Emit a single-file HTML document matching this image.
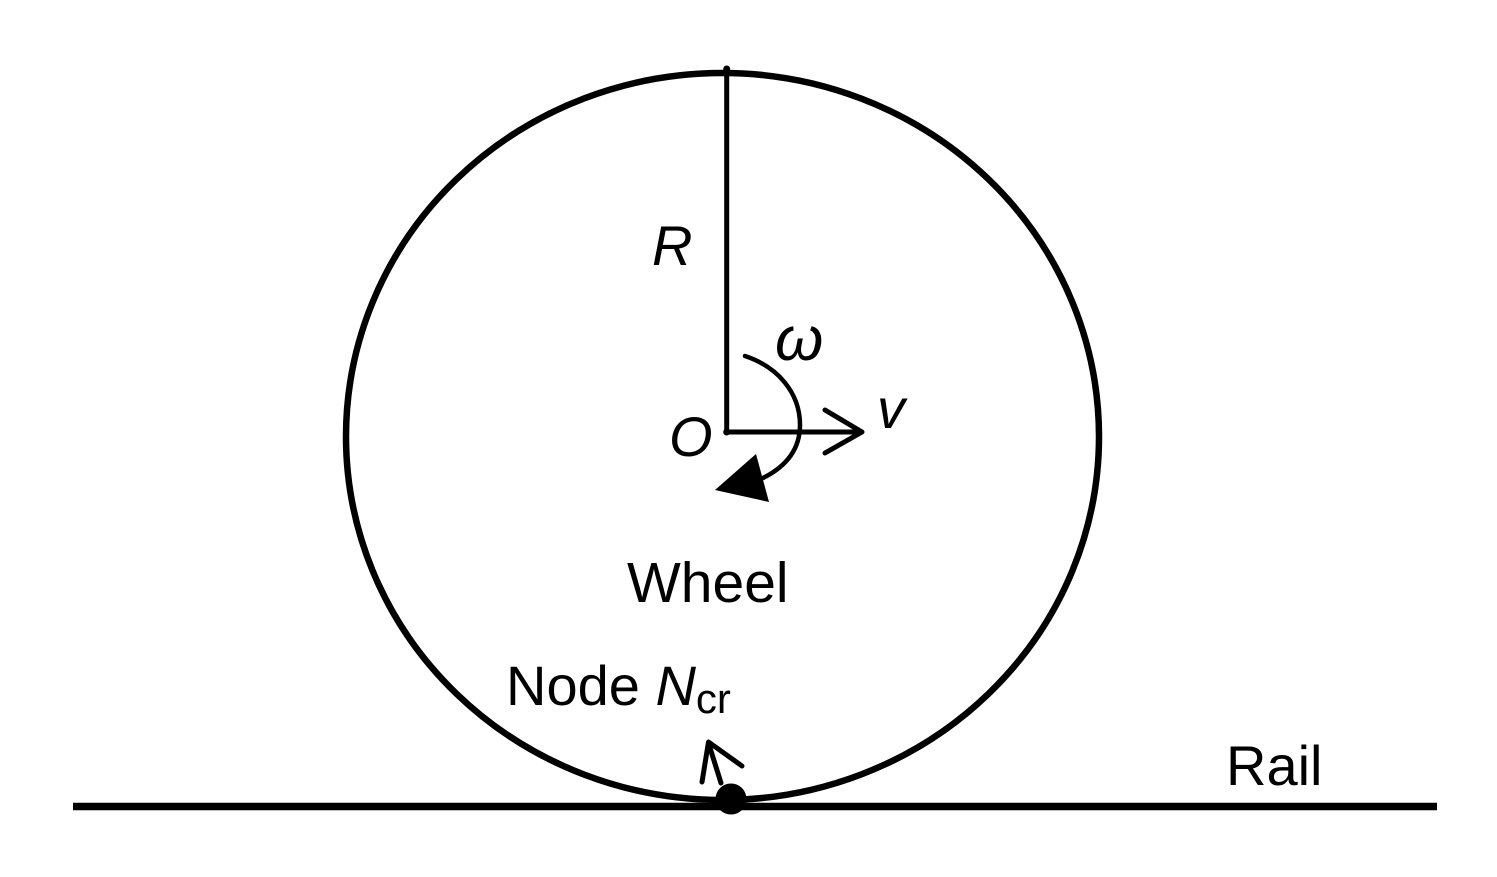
<!DOCTYPE html>
<html><head><meta charset="utf-8"><style>
html,body{margin:0;padding:0;background:#fff;}
svg{display:block;}
text{font-family:"Liberation Sans",Arial,sans-serif;fill:#000;}
</style></head><body>
<svg width="1497" height="877" viewBox="0 0 1497 877" xmlns="http://www.w3.org/2000/svg">
<rect width="1497" height="877" fill="#fff"/>
<!-- wheel -->
<ellipse cx="722.5" cy="436.5" rx="376.5" ry="363.5" fill="none" stroke="#000" stroke-width="6.5"/>
<!-- rail -->
<line x1="73" y1="806.5" x2="1437" y2="806.5" stroke="#000" stroke-width="7.5"/>
<!-- radius -->
<line x1="726.7" y1="69" x2="726.7" y2="432" stroke="#000" stroke-width="5"/>
<circle cx="726.7" cy="69" r="3.5" fill="#000"/>
<circle cx="726.7" cy="432" r="3.5" fill="#000"/>
<!-- v arrow -->
<line x1="726.7" y1="432" x2="861" y2="432" stroke="#000" stroke-width="5"/>
<polyline points="825,410 862,432 825,453" fill="none" stroke="#000" stroke-width="5" stroke-linecap="round" stroke-linejoin="round"/>
<!-- omega arc -->
<path d="M745,356 C778,367 800,393 800,425 C800,449 787,466 763,478" fill="none" stroke="#000" stroke-width="4.5" stroke-linecap="round"/>
<polygon points="715,490 756,454 769,502" fill="#000"/>
<!-- node dot and arrow -->
<circle cx="731" cy="799" r="15.5" fill="#000"/>
<line x1="721" y1="783" x2="708.5" y2="743" stroke="#000" stroke-width="5" stroke-linecap="round"/>
<polyline points="702,782 708.5,742 742,766" fill="none" stroke="#000" stroke-width="5" stroke-linecap="round" stroke-linejoin="round"/>
<!-- labels -->
<text x="652" y="265" font-size="56" font-style="italic">R</text>
<text x="669" y="456" font-size="56" font-style="italic">O</text>
<text x="775" y="360" font-size="62" font-style="italic">ω</text>
<text x="877" y="428" font-size="56" font-style="italic">v</text>
<text x="627" y="602" font-size="57">Wheel</text>
<text x="506" y="705" font-size="56">Node <tspan font-style="italic">N</tspan><tspan font-size="42" dy="8">cr</tspan></text>
<text x="1226" y="785" font-size="56">Rail</text>
</svg>
</body></html>
